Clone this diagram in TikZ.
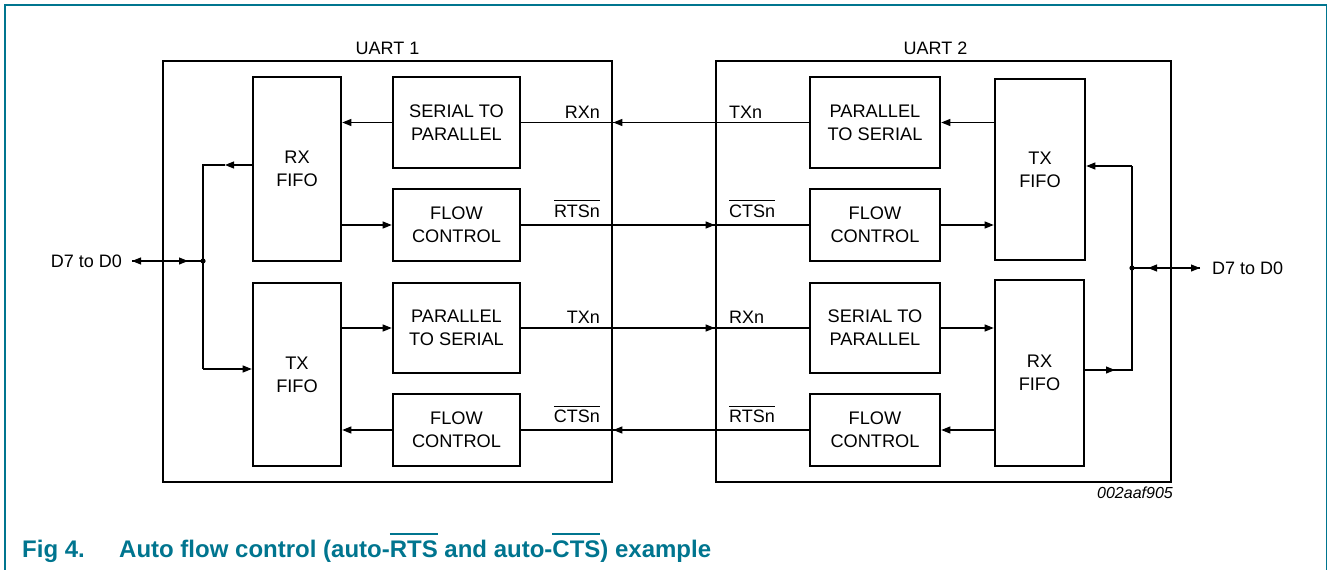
\documentclass[tikz,border=0pt]{standalone}
\usepackage{fontspec}
\setmainfont{Liberation Sans}
\usetikzlibrary{arrows.meta,positioning}
\definecolor{nxpteal}{RGB}{0,117,143}
\newcommand{\ovl}[3]{\vbox{\hrule height #1\kern#2\hbox{#3}}}
\tikzset{
  blk/.style={draw,line width=2.6pt,align=center,inner sep=0pt,font=\fontsize{18.2}{23}\selectfont},
  uart/.style={draw,line width=2.6pt,inner sep=0pt},
  sig/.style={inner sep=0pt,font=\fontsize{18}{22}\selectfont},
  wire/.style={line width=1.1pt},
  arr/.style={wire,-{Triangle[length=9pt,width=7pt]}},
}
\begin{document}
\begin{tikzpicture}[x=1pt,y=-1pt]
\useasboundingbox (0,0) rectangle (1328,570);
\draw[nxpteal,line width=1.6pt] (5,570) -- (5,5) -- (1326.5,5) -- (1326.5,570);

% the two uarts
\node[uart,minimum width=449pt,minimum height=421pt,
  label={[sig,label distance=5pt]above:UART 1}] (u1) at (387.5,271.5) {};
\node[uart,minimum width=455pt,minimum height=421pt,
  label={[sig,label distance=5pt,xshift=-8pt]above:UART 2}] (u2) at (943.5,271.5) {};

% uart 1 blocks
\node[blk,minimum width=88pt,minimum height=184pt] (rxf1) at (297,169) {RX\\FIFO};
\node[blk,minimum width=88pt,minimum height=183pt] (txf1) at (297,374.5) {TX\\FIFO};
\node[blk,minimum width=127pt,minimum height=91pt] (sp1) at (456.5,122.5) {SERIAL TO\\PARALLEL};
\node[blk,minimum width=127pt,minimum height=72pt] (fc1a) at (456.5,225) {FLOW\\CONTROL};
\node[blk,minimum width=127pt,minimum height=90pt] (ps1) at (456.5,328) {PARALLEL\\TO SERIAL};
\node[blk,minimum width=127pt,minimum height=72pt] (fc1b) at (456.5,430) {FLOW\\CONTROL};

% uart 2 blocks
\node[blk,minimum width=130pt,minimum height=91pt] (ps2) at (875,122.5) {PARALLEL\\TO SERIAL};
\node[blk,minimum width=130pt,minimum height=72pt] (fc2a) at (875,225) {FLOW\\CONTROL};
\node[blk,minimum width=130pt,minimum height=90pt] (sp2) at (875,328) {SERIAL TO\\PARALLEL};
\node[blk,minimum width=130pt,minimum height=72pt] (fc2b) at (875,430) {FLOW\\CONTROL};
\node[blk,minimum width=90pt,minimum height=181pt] (txf2) at (1040,169.5) {TX\\FIFO};
\node[blk,minimum width=89pt,minimum height=186pt] (rxf2) at (1039.5,373) {RX\\FIFO};

% inside uart 1
\draw[arr] (sp1.west) -- (sp1.west -| rxf1.east);
\draw[arr] (rxf1.east |- fc1a.west) -- (fc1a.west);
\draw[arr] (txf1.east |- ps1.west) -- (ps1.west);
\draw[arr] (fc1b.west) -- (fc1b.west -| txf1.east);

\coordinate (jl) at (203,261);
\coordinate (jlt) at (203,165);
\coordinate (jlb) at (203,369);
\coordinate (jla) at (225,165);
\coordinate (jlc) at (188,261);
\coordinate (dlend) at (132,261);
\draw[arr] (jlt -| rxf1.west) -- (jla);
\draw[wire] (jla) -- (jlt) -- (jlb);
\draw[arr] (jlb) -- (jlb -| txf1.west);
\draw[arr] (jl) -- (dlend);
\draw[arr] (dlend) -- (jlc);
\fill (jl) circle[radius=2.6pt];
\node[sig,left=10pt of dlend] (dl) {D7 to D0};

% between the uarts
\draw[wire] (ps2.west) -- (sp1.east);
\draw[arr] (ps2.west) -- (ps2.west -| u1.east);
\draw[wire] (fc1a.east) -- (fc2a.west);
\draw[arr] (fc1a.east) -- (fc1a.east -| u2.west);
\draw[wire] (ps1.east) -- (sp2.west);
\draw[arr] (ps1.east) -- (ps1.east -| u2.west);
\draw[wire] (fc2b.west) -- (fc1b.east);
\draw[arr] (fc2b.west) -- (fc2b.west -| u1.east);

\node[sig,anchor=base east] (rx1) at (600,118) {RXn};
\node[sig,anchor=base west] (tx2) at (729,118) {TXn};
\node[sig,anchor=base east] (rts1) at (600,217) {\ovl{0.9pt}{3.5pt}{RTSn}};
\node[sig,anchor=base west] (cts2) at (729,217) {\ovl{0.9pt}{3.5pt}{CTSn}};
\node[sig,anchor=base east] (tx1) at (600,323) {TXn};
\node[sig,anchor=base west] (rx2) at (729,323) {RXn};
\node[sig,anchor=base east] (cts1) at (600,422.5) {\ovl{0.9pt}{3.5pt}{CTSn}};
\node[sig,anchor=base west] (rts2) at (729,422.5) {\ovl{0.9pt}{3.5pt}{RTSn}};

% inside uart 2
\draw[arr] (ps2.east -| txf2.west) -- (ps2.east);
\draw[arr] (fc2a.east) -- (fc2a.east -| txf2.west);
\draw[arr] (sp2.east) -- (sp2.east -| rxf2.west);
\draw[arr] (fc2b.east -| rxf2.west) -- (fc2b.east);

\coordinate (jr) at (1132,268);
\coordinate (jrt) at (1132,166);
\coordinate (jrb) at (1132,370);
\coordinate (jra) at (1115,370);
\coordinate (jrc) at (1148,268);
\coordinate (drend) at (1200,268);
\draw[wire] (jrb -| rxf2.east) -- (jrb) -- (jrt);
\draw[arr] (jrb -| rxf2.east) -- (jra);
\draw[arr] (jrt) -- (jrt -| txf2.east);
\draw[arr] (jr) -- (drend);
\draw[arr] (drend) -- (jrc);
\fill (jr) circle[radius=2.6pt];
\node[sig,right=12pt of drend] (dr) {D7 to D0};

\node[inner sep=0pt,anchor=base east,font=\fontsize{16}{19}\selectfont\itshape] (code) at (1173,498) {002aaf905};

% caption
\node[inner sep=0pt,anchor=base west,text=nxpteal,font=\fontsize{24}{28}\selectfont\bfseries] (fig) at (22,557) {Fig 4.};
\node[inner sep=0pt,anchor=base west,text=nxpteal,font=\fontsize{24}{28}\selectfont\bfseries] (cap) at (119,557)
  {Auto flow control (auto-\ovl{2.5pt}{5pt}{RTS} and auto-\ovl{2.5pt}{5pt}{CTS}) example};
\end{tikzpicture}
\end{document}
